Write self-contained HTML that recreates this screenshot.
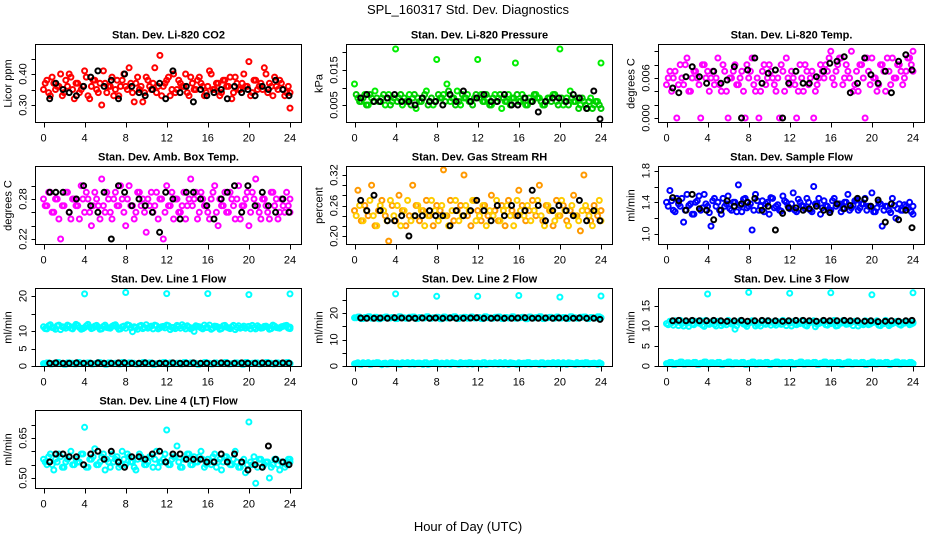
<!DOCTYPE html>
<html><head><meta charset="utf-8">
<style>
html,body{margin:0;padding:0;background:#fff;}
svg{display:block;font-family:"Liberation Sans",sans-serif;}
</style></head>
<body>
<svg id="chart" width="936" height="540" viewBox="0 0 936 540" xmlns="http://www.w3.org/2000/svg">
<text x="468" y="14" text-anchor="middle" font-size="13">SPL_160317  Std. Dev. Diagnostics</text>
<text x="468" y="531" text-anchor="middle" font-size="13">Hour of Day (UTC)</text>
</svg>
<script>
const blackHours=[0.6,1.2,1.9,2.5,3.2,3.9,4.6,5.3,5.9,6.6,7.3,7.9,8.6,9.3,9.9,10.6,11.3,11.9,12.6,13.3,13.9,14.6,15.3,15.9,16.6,17.3,17.9,18.6,19.3,19.9,20.6,21.3,21.9,22.6,23.3,23.9];
const outlierHours=[4,8,12,16,20,24];
const xTicks=[0,4,8,12,16,20,24];

const co2=[0.35,0.38,0.33,0.37,0.36,0.40,0.34,0.36,0.39,0.32,0.37,0.35,0.41,0.33,0.36,0.38,0.34,0.30,0.37,0.36,0.39,0.35,0.33,0.38,0.36,0.42,0.34,0.37,0.35,0.31,0.39,0.36,0.37,0.34,0.46,0.36,0.38,0.33,0.40,0.35,0.37,0.36,0.34,0.39,0.35,0.38,0.37,0.33,0.36,0.40,0.35,0.37,0.34,0.38,0.36,0.32,0.39,0.35,0.37,0.36,0.44,0.34,0.38,0.36,0.35,0.40,0.37,0.33,0.36,0.38,0.35,0.34,0.29];
const co2B=[0.37,0.34,0.39,0.35,0.36,0.33,0.38,0.40,0.35,0.37,0.34,0.36,0.39,0.32,0.38,0.35,0.37,0.41,0.34,0.36,0.33,0.38,0.36,0.40,0.35,0.37,0.31,0.39,0.36,0.34,0.38,0.35,0.42,0.36,0.33,0.37,0.39,0.35,0.34,0.38,0.36,0.40,0.33,0.37,0.35,0.39,0.36,0.34,0.41,0.35,0.37,0.33,0.38,0.36,0.39,0.34,0.37,0.35,0.40,0.36,0.33,0.38,0.35,0.37,0.42,0.34,0.36,0.39,0.35,0.37,0.33,0.36,0.34];
const co2Black=[0.32,0.37,0.35,0.34,0.33,0.36,0.39,0.41,0.36,0.38,0.32,0.40,0.36,0.34,0.33,0.35,0.37,0.32,0.41,0.34,0.36,0.31,0.35,0.33,0.34,0.35,0.32,0.36,0.34,0.35,0.33,0.36,0.35,0.38,0.35,0.33];

const press=[0.011,0.007,0.006,0.008,0.005,0.007,0.009,0.006,0.007,0.005,0.008,0.006,0.021,0.007,0.005,0.006,0.008,0.007,0.004,0.006,0.007,0.009,0.006,0.005,0.018,0.007,0.008,0.011,0.006,0.007,0.009,0.005,0.007,0.008,0.006,0.007,0.018,0.008,0.006,0.007,0.005,0.008,0.007,0.004,0.006,0.008,0.007,0.017,0.006,0.008,0.005,0.007,0.006,0.008,0.007,0.005,0.006,0.007,0.008,0.006,0.021,0.005,0.007,0.009,0.006,0.007,0.005,0.006,0.004,0.007,0.005,0.006,0.017];
const pressB=[0.008,0.006,0.007,0.005,0.008,0.006,0.007,0.006,0.008,0.007,0.005,0.007,0.006,0.008,0.007,0.006,0.005,0.008,0.007,0.006,0.008,0.005,0.007,0.006,0.008,0.007,0.006,0.009,0.007,0.005,0.006,0.008,0.007,0.006,0.005,0.008,0.007,0.006,0.008,0.005,0.007,0.006,0.008,0.007,0.006,0.005,0.007,0.008,0.006,0.007,0.005,0.006,0.008,0.007,0.006,0.005,0.007,0.006,0.008,0.005,0.007,0.006,0.005,0.007,0.006,0.004,0.007,0.005,0.006,0.004,0.006,0.005,0.004];
const pressBlack=[0.007,0.008,0.006,0.006,0.007,0.008,0.006,0.006,0.005,0.007,0.006,0.006,0.005,0.008,0.006,0.009,0.006,0.007,0.008,0.006,0.006,0.008,0.005,0.005,0.007,0.006,0.003,0.006,0.007,0.007,0.006,0.008,0.007,0.004,0.009,0.001];

const temp=[0.005,0.007,0.006,0.000,0.008,0.005,0.009,0.004,0.007,0.006,0.000,0.008,0.007,0.006,0.005,0.009,0.004,0.007,0.000,0.006,0.008,0.005,0.007,0.000,0.006,0.009,0.004,0.000,0.007,0.005,0.008,0.006,0.004,0.000,0.007,0.009,0.005,0.006,0.000,0.008,0.004,0.007,0.006,0.000,0.005,0.008,0.006,0.007,0.010,0.005,0.008,0.009,0.006,0.007,0.010,0.005,0.004,0.008,0.000,0.007,0.009,0.006,0.005,0.008,0.004,0.007,0.009,0.006,0.008,0.005,0.007,0.009,0.010];
const tempB=[0.006,0.004,0.007,0.005,0.006,0.008,0.004,0.006,0.007,0.005,0.008,0.006,0.004,0.007,0.006,0.005,0.008,0.004,0.006,0.007,0.005,0.006,0.004,0.008,0.007,0.005,0.006,0.004,0.008,0.006,0.007,0.005,0.006,0.008,0.004,0.006,0.007,0.005,0.004,0.006,0.008,0.005,0.007,0.004,0.006,0.007,0.008,0.009,0.006,0.007,0.009,0.005,0.008,0.006,0.004,0.007,0.008,0.006,0.009,0.005,0.006,0.004,0.008,0.007,0.009,0.005,0.006,0.008,0.007,0.006,0.009,0.008,0.007];
const tempBlack=[0.0045,0.0038,0.0062,0.0077,0.0062,0.0052,0.0070,0.0052,0.0057,0.0077,0.0000,0.0072,0.0090,0.0052,0.0067,0.0072,0.0000,0.0052,0.0070,0.0052,0.0052,0.0062,0.0070,0.0082,0.0085,0.0092,0.0038,0.0052,0.0090,0.0065,0.0052,0.0070,0.0038,0.0085,0.0095,0.0072];

const amb=[0.28,0.27,0.29,0.26,0.28,0.22,0.27,0.29,0.25,0.28,0.27,0.30,0.26,0.28,0.24,0.29,0.27,0.31,0.26,0.28,0.25,0.29,0.27,0.28,0.24,0.30,0.27,0.26,0.29,0.28,0.23,0.27,0.26,0.29,0.28,0.22,0.30,0.27,0.25,0.28,0.26,0.29,0.27,0.31,0.28,0.25,0.29,0.27,0.26,0.28,0.30,0.24,0.27,0.29,0.26,0.28,0.25,0.30,0.27,0.28,0.24,0.29,0.31,0.26,0.28,0.27,0.25,0.29,0.28,0.26,0.27,0.29,0.26];
const ambB=[0.27,0.29,0.26,0.28,0.25,0.27,0.29,0.26,0.28,0.27,0.25,0.28,0.29,0.26,0.27,0.28,0.25,0.27,0.29,0.26,0.28,0.27,0.30,0.26,0.28,0.27,0.25,0.29,0.27,0.26,0.28,0.29,0.27,0.25,0.28,0.26,0.27,0.29,0.28,0.26,0.27,0.25,0.28,0.27,0.29,0.26,0.28,0.27,0.25,0.29,0.26,0.28,0.27,0.26,0.29,0.27,0.28,0.25,0.27,0.29,0.26,0.28,0.27,0.25,0.28,0.26,0.29,0.27,0.25,0.28,0.26,0.27,0.28];
const ambBlack=[0.29,0.29,0.29,0.26,0.28,0.30,0.27,0.26,0.29,0.22,0.30,0.29,0.27,0.28,0.27,0.26,0.23,0.29,0.28,0.25,0.29,0.29,0.28,0.27,0.25,0.28,0.29,0.30,0.26,0.30,0.27,0.29,0.27,0.26,0.28,0.26];

const rh=[0.25,0.29,0.23,0.26,0.24,0.30,0.22,0.25,0.27,0.24,0.19,0.26,0.23,0.28,0.25,0.22,0.24,0.30,0.26,0.23,0.25,0.27,0.24,0.22,0.26,0.25,0.33,0.24,0.27,0.23,0.25,0.26,0.32,0.24,0.22,0.27,0.25,0.23,0.26,0.24,0.28,0.25,0.23,0.26,0.22,0.27,0.25,0.24,0.29,0.26,0.23,0.25,0.27,0.24,0.30,0.23,0.26,0.25,0.22,0.27,0.24,0.26,0.23,0.25,0.28,0.24,0.21,0.32,0.25,0.23,0.26,0.24,0.25];
const rhB=[0.24,0.26,0.23,0.25,0.27,0.24,0.22,0.26,0.25,0.23,0.27,0.24,0.26,0.22,0.25,0.27,0.23,0.24,0.26,0.25,0.22,0.24,0.27,0.25,0.23,0.26,0.24,0.22,0.25,0.27,0.23,0.24,0.26,0.25,0.27,0.23,0.24,0.26,0.22,0.25,0.24,0.27,0.23,0.25,0.26,0.24,0.22,0.27,0.25,0.24,0.26,0.23,0.25,0.27,0.24,0.22,0.26,0.25,0.23,0.24,0.27,0.25,0.22,0.26,0.24,0.23,0.25,0.26,0.24,0.22,0.25,0.27,0.23];
const rhBlack=[0.27,0.25,0.28,0.25,0.23,0.23,0.24,0.20,0.24,0.24,0.25,0.24,0.24,0.22,0.25,0.24,0.25,0.27,0.25,0.23,0.26,0.24,0.26,0.24,0.25,0.29,0.26,0.23,0.25,0.26,0.25,0.24,0.27,0.23,0.25,0.23];

const flow=[1.40,1.55,1.30,1.45,1.35,1.15,1.50,1.38,1.25,1.42,1.30,1.50,1.35,1.10,1.45,1.40,1.25,1.35,1.48,1.30,1.40,1.62,1.28,1.45,1.35,1.05,1.50,1.30,1.42,1.38,1.25,1.45,1.35,1.30,1.48,1.40,1.32,1.52,1.28,1.40,1.35,1.45,1.30,1.60,1.38,1.25,1.42,1.35,1.30,1.45,1.38,1.28,1.40,1.50,1.33,1.42,1.30,1.38,1.45,1.35,1.52,1.28,1.40,1.10,1.35,1.30,1.45,1.20,1.38,1.30,1.35,1.40,1.25];
const flowB=[1.35,1.42,1.28,1.38,1.45,1.30,1.36,1.25,1.40,1.48,1.33,1.38,1.27,1.42,1.35,1.30,1.45,1.38,1.32,1.40,1.28,1.36,1.44,1.33,1.38,1.30,1.42,1.35,1.28,1.40,1.46,1.33,1.37,1.29,1.42,1.35,1.38,1.30,1.44,1.36,1.32,1.40,1.28,1.38,1.45,1.33,1.36,1.30,1.42,1.35,1.38,1.32,1.40,1.30,1.36,1.43,1.33,1.38,1.30,1.35,1.28,1.33,1.38,1.30,1.35,1.27,1.36,1.32,1.30,1.37,1.33,1.28,1.35];
const flowBlack=[1.46,1.42,1.30,1.50,1.32,1.30,1.18,1.30,1.42,1.35,1.38,1.40,1.45,1.30,1.35,1.05,1.26,1.33,1.33,1.30,1.32,1.35,1.30,1.27,1.38,1.32,1.36,1.45,1.44,1.35,1.43,1.15,1.38,1.18,1.30,1.08];

const line1High=[11.2,10.6,11.8,10.9,11.5,10.4,11.1,11.7,10.8,11.3,11.6,10.5,11.0,11.9,10.7,11.4,11.1,10.6,11.7,10.9,11.3,11.8,10.5,11.2,10.8,11.6,9.8,11.0,11.4,10.7,11.8,11.1,10.6,11.5,10.9,11.3,11.7,10.4,11.0,11.6,10.8,11.2,11.5,10.6,9.9,11.3,10.9,11.7,11.0,10.5,11.4,11.1,10.7,11.6,10.9,11.2,10.4,11.5,11.0,10.8,11.3,11.6,10.6,11.1,10.9,11.4,10.5,11.7,11.0,10.8,11.3,11.6,10.7];
const line1HighB=[10.7,11.5,11.0,10.5,11.7,11.2,10.8,11.4,10.6,11.9,11.0,10.7,11.5,11.2,10.9,11.6,10.5,11.3,11.0,10.8,11.6,11.1,10.6,11.4,11.8,10.9,11.2,10.5,11.6,11.0,10.8,11.4,11.7,10.6,11.2,10.9,11.5,11.0,10.7,11.3,11.8,10.6,11.1,10.9,11.5,11.2,10.6,11.0,11.7,10.8,11.3,10.5,11.5,11.1,10.7,11.6,11.0,10.8,11.4,11.2,10.6,11.0,11.5,10.8,11.3,11.1,10.7,11.4,10.9,11.2,11.5,10.8,11.1];
const line1Low=[0.7,0.9,0.6,0.8,1.0,0.7,0.5,0.9,0.8,0.6,1.0,0.7,0.8,0.9,0.6,0.7,1.0,0.8,0.5,0.9,0.7,0.8,0.6,1.0,0.7,0.9,0.8,0.6,0.7,1.0,0.8,0.9,0.5,0.7,0.8,1.0,0.6,0.9,0.7,0.8,0.6,1.0,0.7,0.9,0.8,0.5,0.7,1.0,0.8,0.6,0.9,0.7,0.8,1.0,0.6,0.7,0.9,0.8,0.5,1.0,0.7,0.8,0.9,0.6,0.7,1.0,0.8,0.6,0.9,0.7,0.8,1.0,0.7];
const line1Out=[20.6,21.0,20.7,20.7,20.4,20.6];
const line1Black=[0.8,0.9,0.8,0.8,0.9,0.8,0.8,0.9,0.8,0.8,0.9,0.9,0.8,0.8,0.9,0.8,0.8,0.8,0.9,0.8,0.8,0.9,0.8,0.8,0.8,0.9,0.8,0.8,0.9,0.8,0.8,0.9,0.8,0.8,0.9,0.8];

const line2High=[18.2,18.5,17.9,18.3,18.6,18.0,18.4,17.8,18.2,18.5,18.1,18.3,17.9,18.6,18.2,18.0,18.4,18.5,17.9,18.3,18.1,18.6,18.0,18.2,18.4,17.8,18.5,18.1,18.3,18.6,17.9,18.2,18.4,18.0,18.5,18.1,18.3,17.9,18.6,18.2,18.0,18.4,18.5,17.9,18.3,18.1,18.6,18.0,18.2,18.4,17.8,18.5,18.1,18.3,18.6,17.9,18.2,18.4,18.0,18.5,18.1,18.3,17.9,18.6,18.2,18.0,18.4,18.5,17.9,18.3,18.1,18.6,18.2];
const line2Low=[0.8,1.2,0.6,1.0,1.3,0.7,0.9,1.2,0.5,1.1,0.8,1.3,0.9,0.6,1.2,1.0,0.7,1.3,0.9,1.1,0.6,1.2,0.8,1.0,1.3,0.7,0.9,1.2,0.6,1.1,0.8,1.3,1.0,0.7,1.2,0.9,1.1,0.6,1.3,0.8,1.0,1.2,0.7,0.9,1.3,0.6,1.1,0.8,1.2,1.0,0.7,1.3,0.9,1.1,0.6,1.2,0.8,1.0,1.3,0.7,0.9,1.2,0.6,1.1,0.8,1.3,1.0,0.7,1.2,0.9,1.1,0.6,0.9];
const line2LowB=[1.0,0.7,1.2,0.9,0.6,1.1,1.3,0.8,1.0,0.7,1.2,0.9,1.1,0.6,1.0,1.3,0.8,0.7,1.1,0.9,1.2,0.6,1.0,1.3,0.8,1.1,0.7,0.9,1.2,1.0,0.6,0.8,1.1,1.3,0.7,1.0,0.9,1.2,0.6,1.1,0.8,1.0,1.3,0.7,0.9,1.2,1.0,0.6,0.8,1.1,1.3,0.7,1.0,0.9,1.2,0.6,1.1,0.8,1.0,1.3,0.7,0.9,1.2,1.0,0.6,0.8,1.1,1.3,0.7,1.0,0.9,1.2,0.8];
const line2Out=[27.2,26.3,26.3,26.6,26.0,26.4];
const line2Black=[18.1,18.0,18.0,18.1,18.0,18.2,18.1,18.0,18.0,18.1,18.0,18.1,18.0,18.1,18.0,18.0,18.1,18.2,18.0,18.0,18.1,18.0,18.0,18.1,18.2,18.0,18.0,18.1,18.0,18.1,18.0,18.0,18.1,18.0,18.0,17.6];

const line3High=[10.6,11.2,10.2,10.9,11.4,10.0,10.7,11.1,10.3,10.8,11.3,9.9,10.6,11.0,10.4,11.2,10.1,10.8,11.4,10.5,9.2,10.9,11.1,10.3,10.7,11.3,10.0,10.6,11.2,10.4,10.9,11.0,10.2,10.8,11.4,10.1,10.7,11.1,10.3,10.6,11.2,10.0,10.9,11.3,10.4,10.8,11.0,10.2,10.6,11.4,10.1,10.7,11.1,10.5,10.9,11.2,10.0,10.6,11.3,10.3,10.8,11.0,10.2,10.7,11.4,10.1,10.6,11.1,10.4,10.9,11.2,10.3,10.7];
const line3HighB=[10.3,10.8,11.3,10.1,10.6,11.0,9.9,10.5,11.2,10.7,10.2,11.4,10.4,10.9,10.0,11.1,10.6,10.3,11.0,10.8,10.1,11.3,10.5,9.9,10.9,11.2,10.4,10.0,10.7,11.3,10.2,10.6,11.1,10.4,10.9,11.2,10.0,10.5,10.8,11.3,10.2,10.7,11.0,9.8,10.6,11.2,10.3,10.9,11.1,10.0,10.6,11.3,10.4,10.8,10.1,11.0,10.7,10.3,11.2,10.5,10.9,11.3,10.1,10.6,11.0,10.4,10.8,11.2,10.2,10.7,11.1,10.5,10.9];
const line3Low=[0.6,0.9,0.4,0.7,1.0,0.5,0.8,0.6,0.9,0.4,0.7,1.0,0.5,0.8,0.6,0.9,0.4,0.7,1.0,0.5,0.8,0.6,0.9,0.4,0.7,1.0,0.5,0.8,0.6,0.9,0.4,0.7,1.0,0.5,0.8,0.6,0.9,0.4,0.7,1.0,0.5,0.8,0.6,0.9,0.4,0.7,1.0,0.5,0.8,0.6,0.9,0.4,0.7,1.0,0.5,0.8,0.6,0.9,0.4,0.7,1.0,0.5,0.8,0.6,0.9,0.4,0.7,1.0,0.5,0.8,0.6,0.9,0.6];
const line3Out=[18.0,18.4,18.2,18.3,17.8,18.3];
const line3Black=[11.3,11.4,11.3,11.4,11.3,11.3,11.4,11.3,11.2,11.3,11.4,11.2,11.3,11.4,11.3,11.3,11.2,11.3,11.4,11.4,11.3,11.2,11.4,11.3,11.3,11.4,11.3,11.3,11.2,11.3,11.1,11.2,11.3,11.2,11.3,11.4];

const line4=[0.57,0.55,0.59,0.53,0.56,0.58,0.54,0.57,0.60,0.55,0.56,0.59,0.69,0.54,0.57,0.61,0.55,0.58,0.53,0.56,0.59,0.57,0.54,0.60,0.55,0.58,0.56,0.53,0.59,0.57,0.55,0.58,0.54,0.60,0.56,0.57,0.68,0.55,0.58,0.62,0.54,0.57,0.59,0.55,0.58,0.56,0.60,0.54,0.57,0.55,0.59,0.56,0.53,0.58,0.57,0.55,0.60,0.54,0.56,0.52,0.71,0.55,0.48,0.57,0.54,0.56,0.50,0.55,0.57,0.53,0.56,0.55,0.57];
const line4B=[0.56,0.58,0.55,0.57,0.59,0.54,0.56,0.58,0.55,0.57,0.56,0.59,0.54,0.57,0.58,0.55,0.56,0.59,0.57,0.54,0.56,0.58,0.55,0.57,0.59,0.56,0.54,0.57,0.58,0.55,0.56,0.58,0.57,0.54,0.56,0.59,0.55,0.57,0.58,0.56,0.54,0.57,0.59,0.55,0.56,0.58,0.57,0.55,0.56,0.58,0.54,0.57,0.56,0.58,0.55,0.57,0.56,0.54,0.57,0.55,0.56,0.58,0.54,0.57,0.55,0.56,0.54,0.57,0.55,0.56,0.54,0.57,0.56];
const line4Black=[0.56,0.59,0.59,0.58,0.58,0.55,0.59,0.60,0.57,0.60,0.56,0.54,0.58,0.58,0.57,0.59,0.60,0.56,0.59,0.59,0.57,0.57,0.57,0.56,0.56,0.59,0.56,0.59,0.56,0.53,0.55,0.54,0.62,0.57,0.56,0.55];

const NS="http://www.w3.org/2000/svg";
const svg=document.getElementById('chart');
function mk(tag,attrs,parent){const e=document.createElementNS(NS,tag);for(const k in attrs)e.setAttribute(k,attrs[k]);(parent||svg).appendChild(e);return e;}
const colL=[35.5,346.5,658.5], rowT=[44.5,166.5,288.5,410.5], W=266, H=78;
const xScaleFor=c=>h=>colL[c]+8+h*10.27;
function yScaleFor(v1,p1,v2,p2){return v=>p1+(v-v1)*(p2-p1)/(v2-v1);}
function mainHours(n,off){return Array.from({length:n},(_,i)=>Math.min(24,(i+(off||0))*24/(n-1)));}

const panels=[
 {name:'co2',title:'Stan. Dev. Li-820 CO2',ylab:'Licor ppm',c:0,r:0,ref:[0.30,105,0.40,74],ticks:[0.30,0.35,0.40,0.45],labs:['0.30','','0.40',''],
  series:[{v:co2,col:'#ff0000'},{v:co2B,col:'#ff0000',off:0.5},{v:co2Black,col:'#000',h:blackHours}]},
 {name:'pressure',title:'Stan. Dev. Li-820 Pressure',ylab:'kPa',c:1,r:0,ref:[0.005,105,0.015,70],ticks:[0.005,0.010,0.015,0.020],labs:['0.005','','0.015',''],
  series:[{v:press,col:'#00ee00'},{v:pressB,col:'#00cc00',off:0.5},{v:pressBlack,col:'#000',h:blackHours}]},
 {name:'temp',title:'Stan. Dev. Li-820 Temp.',ylab:'degrees C',c:2,r:0,ref:[0,118,0.006,78],ticks:[0,0.002,0.004,0.006,0.008,0.010],labs:['0.000','','','0.006','',''],
  series:[{v:temp,col:'#ff00ff'},{v:tempB,col:'#ff00ff',off:0.5},{v:tempBlack,col:'#000',h:blackHours}]},
 {name:'amb-box-temp',title:'Stan. Dev. Amb. Box Temp.',ylab:'degrees C',c:0,r:1,ref:[0.22,239,0.28,199],ticks:[0.22,0.24,0.26,0.28,0.30],labs:['0.22','','','0.28',''],
  series:[{v:amb,col:'#ff00ff'},{v:ambB,col:'#ff00ff',off:0.5},{v:ambBlack,col:'#000',h:blackHours}]},
 {name:'gas-rh',title:'Stan. Dev. Gas Stream RH',ylab:'percent',c:1,r:1,ref:[0.20,236,0.32,175],ticks:[0.20,0.22,0.24,0.26,0.28,0.30,0.32],labs:['0.20','','','0.26','','','0.32'],
  series:[{v:rh,col:'#ff9900'},{v:rhB,col:'#ffcc00',off:0.5},{v:rhBlack,col:'#000',h:blackHours}]},
 {name:'sample-flow',title:'Stan. Dev. Sample Flow',ylab:'ml/min',c:2,r:1,ref:[1.0,234,1.8,170.7],ticks:[1.0,1.2,1.4,1.6,1.8],labs:['1.0','','1.4','','1.8'],
  series:[{v:flow,col:'#0000ff'},{v:flowB,col:'#0000ff',off:0.5},{v:flowBlack,col:'#000',h:blackHours}]},
 {name:'line1-flow',title:'Stan. Dev. Line 1 Flow',ylab:'ml/min',c:0,r:2,ref:[0,366,20,296],ticks:[0,5,10,15,20],labs:['0','5','10','','20'],
  series:[{v:line1High,col:'#00ffff'},{v:line1HighB,col:'#00ffff',off:0.5},{v:line1Low,col:'#00ffff'},{v:line1Low,col:'#00ffff',off:0.5},{v:line1Out,col:'#00ffff',h:outlierHours},{v:line1Black,col:'#000',h:blackHours}]},
 {name:'line2-flow',title:'Stan. Dev. Line 2 Flow',ylab:'ml/min',c:1,r:2,ref:[0,366,20,313],ticks:[0,5,10,15,20,25],labs:['0','','10','','20',''],
  series:[{v:line2High,col:'#00ffff'},{v:line2High,col:'#00ffff',off:0.5},{v:line2Low,col:'#00ffff'},{v:line2LowB,col:'#00ffff',off:0.5},{v:line2Out,col:'#00ffff',h:outlierHours},{v:line2Black,col:'#000',h:blackHours}]},
 {name:'line3-flow',title:'Stan. Dev. Line 3 Flow',ylab:'ml/min',c:2,r:2,ref:[0,366,15,306],ticks:[0,5,10,15],labs:['0','5','10','15'],
  series:[{v:line3High,col:'#00ffff'},{v:line3HighB,col:'#00ffff',off:0.5},{v:line3Low,col:'#00ffff'},{v:line3Low,col:'#00ffff',off:0.5},{v:line3Out,col:'#00ffff',h:outlierHours},{v:line3Black,col:'#000',h:blackHours}]},
 {name:'line4-flow',title:'Stan. Dev. Line 4 (LT) Flow',ylab:'ml/min',c:0,r:3,ref:[0.50,478,0.65,438],ticks:[0.50,0.55,0.60,0.65,0.70],labs:['0.50','','','0.65',''],
  series:[{v:line4,col:'#00ffff'},{v:line4B,col:'#00ffff',off:0.5},{v:line4Black,col:'#000',h:blackHours}]}
];

panels.forEach(p=>{
  const L=colL[p.c], T=rowT[p.r];
  const g=mk('g',{});
  
  
  const xs=xScaleFor(p.c), ys=yScaleFor(...p.ref);
  p.series.forEach(s=>{
    const hrs=s.h||mainHours(s.v.length,s.off);
    const sg=mk('g',{fill:'none',stroke:s.col,'stroke-width':2},g);
    
    
    s.v.forEach((v,i)=>{
      const y=ys(v);
      if(y<T-4||y>T+H+4) return;
      const c=mk('circle',{cx:xs(hrs[i]).toFixed(1),cy:y.toFixed(1),r:2.5},sg);
      
      
    });
  });
  const box=mk('rect',{x:L,y:T,width:W,height:H,fill:'none',stroke:'#000','stroke-width':1},g);
  
  
  const t=mk('text',{x:L+W/2,y:T-6,'text-anchor':'middle','font-size':11,'font-weight':'bold'},g);
  t.textContent=p.title;
  
  
  const xa=mk('g',{},g);
  
  
  xTicks.forEach(h=>{
    const xp=Math.round(xs(h))+0.5;
    mk('line',{x1:xp,x2:xp,y1:T+H,y2:T+H+5,stroke:'#000'},xa);
    const lt=mk('text',{x:xs(h),y:T+H+19,'text-anchor':'middle','font-size':11},xa);
    lt.textContent=h;
    
    
  });
  const ya=mk('g',{},g);
  
  
  p.ticks.forEach((v,i)=>{
    const y=ys(v);
    const yp=Math.round(y)+0.5;
    mk('line',{x1:L-4,x2:L,y1:yp,y2:yp,stroke:'#000'},ya);
    if(p.labs[i]){
      const lt=mk('text',{x:0,y:0,'text-anchor':'middle','font-size':11,transform:`translate(${L-9},${y}) rotate(-90)`},ya);
      lt.textContent=p.labs[i];
      
      
    }
  });
  const yt=mk('text',{x:0,y:0,'text-anchor':'middle','font-size':11,transform:`translate(${L-24},${T+H/2}) rotate(-90)`},g);
  yt.textContent=p.ylab;
  
  
});
</script>
</body></html>
